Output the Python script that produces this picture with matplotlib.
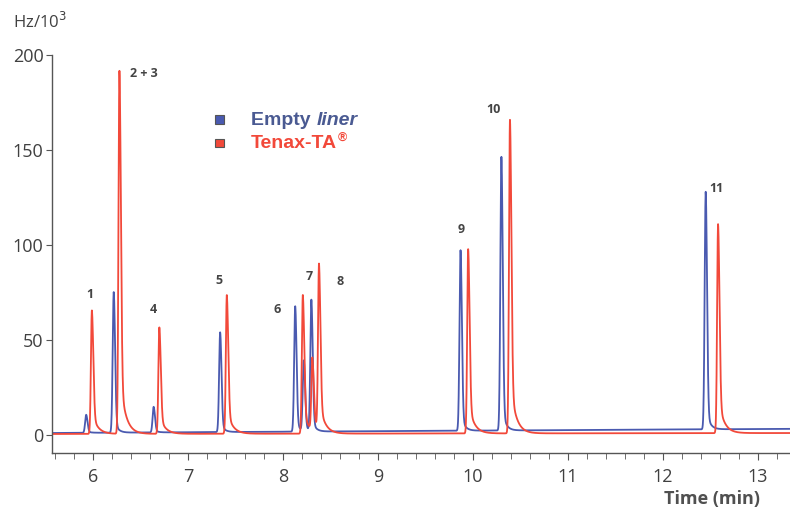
import numpy as np
import matplotlib.pyplot as plt
from matplotlib.ticker import MultipleLocator

# peak retention times (min) and heights (Hz/10^3)
blue_rt = [5.93, 6.22, 6.64, 7.34, 8.13, 8.22, 8.30, 9.87, 10.30, 12.45]
blue_h = [9.5, 74, 13.5, 52.5, 66, 37, 69, 95, 144, 125]
red_rt = [5.99, 6.28, 6.70, 7.41, 8.21, 8.31, 8.38, 9.95, 10.39, 12.58]
red_h = [65, 191, 56, 73, 73, 38, 87, 97, 165, 110]

# baseline level at start and end of the run
blue_base = [1.0, 3.2]
red_base = [0.5, 1.0]

# peak labels
lab_txt = ["1", "2 + 3", "4", "5", "6", "7", "8", "9", "10", "11"]
lab_x = [5.97, 6.54, 6.64, 7.33, 7.94, 8.28, 8.60, 9.88, 10.22, 12.56]
lab_y = [74, 190, 66, 81.5, 66, 83.5, 80.5, 108, 171, 129.5]

blue = '#4a5ab0'
red = '#f2493a'
grey = '#404040'

t = np.arange(5.55, 13.36, 0.001)


def trace(rts, hs, base, s1, s2, frac, tau):
    y = np.linspace(base[0], base[1], t.size)
    for t0, h in zip(rts, hs):
        d = t - t0
        left = np.exp(-0.5 * (d / s1) ** 2)
        right = (1 - frac) * np.exp(-0.5 * (d / s2) ** 2) + frac * np.exp(-np.clip(d, 0, None) / tau)
        y += h * np.where(d < 0, left, right)
    return y


fig = plt.figure(figsize=(7.9, 5.13), dpi=100)
ax = fig.add_axes([0.0658, 0.117, 0.9342, 0.776])

ax.plot(t, trace(blue_rt, blue_h, blue_base, 0.011, 0.014, 0.10, 0.035), color=blue, lw=1.3)
ax.plot(t, trace(red_rt, red_h, red_base, 0.010, 0.015, 0.18, 0.055), color=red, lw=1.3)

for s, x, y in zip(lab_txt, lab_x, lab_y):
    ax.text(x, y, s, ha='center', va='center', fontsize=9, fontweight='bold',
            color='#444444', family='Open Sans')

ax.set_xlim(5.57, 13.337)
ax.set_ylim(-9.5, 200)
ax.xaxis.set_major_locator(MultipleLocator(1))
ax.xaxis.set_minor_locator(MultipleLocator(0.2))
ax.set_yticks([0, 50, 100, 150, 200])
for sp in ['top', 'right']:
    ax.spines[sp].set_visible(False)
for sp in ['left', 'bottom']:
    ax.spines[sp].set_color('#555555')
    ax.spines[sp].set_linewidth(1.0)
ax.tick_params(axis='both', which='both', color='#555555', labelcolor=grey,
               labelsize=13, direction='out')
ax.tick_params(axis='x', which='major', length=5, pad=6)
ax.tick_params(axis='x', which='minor', length=4)
ax.tick_params(axis='y', length=4, pad=2)
for lb in ax.get_xticklabels() + ax.get_yticklabels():
    lb.set_family('Open Sans')

fig.text(0.016, 0.958, 'Hz/10$^3$', fontsize=12, color=grey, family='Open Sans', va='center')
fig.text(0.962, 0.028, 'Time (min)', fontsize=13, fontweight='bold', color='#505050',
         family='Open Sans', ha='right', va='center')

# legend
fig.patches.append(plt.Rectangle((0.272, 0.758), 0.011, 0.017, transform=fig.transFigure,
                                 facecolor=blue, edgecolor='#555555', lw=0.8))
fig.patches.append(plt.Rectangle((0.272, 0.713), 0.011, 0.017, transform=fig.transFigure,
                                 facecolor=red, edgecolor='#555555', lw=0.8))
rend = fig.canvas.get_renderer()
inv = fig.transFigure.inverted()
t1 = fig.text(0.318, 0.766, 'Empty ', fontsize=14, fontweight='bold', color='#4a5a92',
              family='Liberation Sans', va='center')
x1 = inv.transform(t1.get_window_extent(rend))[1, 0]
fig.text(x1, 0.766, 'liner', fontsize=14, fontweight='bold', style='italic',
         color='#4a5a92', family='Liberation Sans', va='center')
t2 = fig.text(0.318, 0.720, 'Tenax-TA', fontsize=14, fontweight='bold', color=red,
              family='Liberation Sans', va='center')
x2 = inv.transform(t2.get_window_extent(rend))[1, 0]
fig.text(x2 + 0.001, 0.731, '®', fontsize=9, fontweight='bold', color=red,
         family='Liberation Sans', va='center')

fig.savefig('out.png', dpi=100)
